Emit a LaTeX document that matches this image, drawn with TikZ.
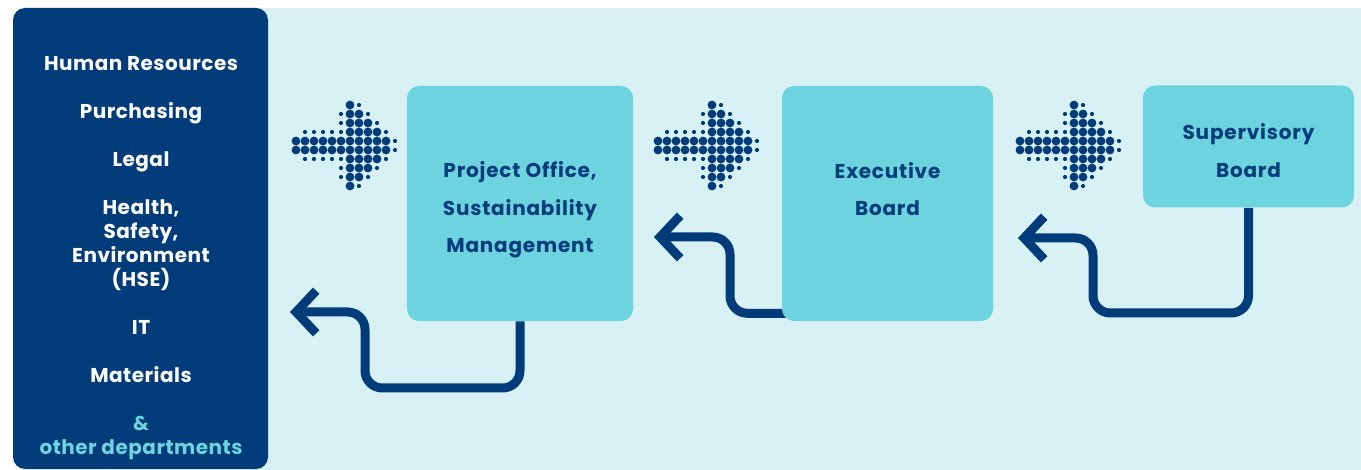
\documentclass[tikz,border=0pt]{standalone}
\usepackage{fontspec}
\setmainfont{Poppins}
\usepackage{tikz}
\tikzset{>=latex}
\usetikzlibrary{arrows.meta}
\definecolor{navy}{RGB}{0,59,122}
\definecolor{aqua}{RGB}{108,211,223}
\definecolor{pale}{RGB}{216,241,244}
\pgfdeclarelayer{bg}
\pgfdeclarelayer{lines}
\pgfsetlayers{bg,lines,main}
\tikzset{
    unitbox/.style={fill=aqua, rounded corners=9pt, inner sep=0pt},
    boxtext/.style={text=navy, font=\bfseries\fontsize{15}{28}\selectfont\addfontfeatures{LetterSpace=4}, align=center},
    deptext/.style={text=white, font=\bfseries\fontsize{15}{18}\selectfont\addfontfeatures{LetterSpace=2.5}, align=center},
    flow/.style={draw=navy, line width=6.75pt, rounded corners=13pt}
}

\begin{document}
\begin{tikzpicture}[x=0.75pt, y=-0.75pt, >={Straight Barb[length=15pt,width=32pt]}]
            \useasboundingbox (0,0) rectangle (1361,470);
            \begin{pgfonlayer}{bg}
                \fill[pale] (250,8) rectangle (1361,470);
            \end{pgfonlayer}
            % departments column
            \node[unitbox, fill=navy, minimum width=191.25pt, minimum height=345.75pt] (depts) at (140.5,238.5) {};
            \node[deptext] (deptlist) at (141,258.5) {Human Resources\\[18pt]Purchasing\\[18pt]Legal\\[18pt]Health,\\Safety,\\Environment\\(HSE)\\[18pt]IT\\[18pt]Materials\\[18pt]\textcolor{aqua}{\&}\\\textcolor{aqua}{other departments}};
            % boxes
            \node[unitbox, minimum width=169.5pt, minimum height=176.25pt] (office) at (520,203.5) {};
            \node[unitbox, minimum width=158.25pt, minimum height=176.25pt] (exec) at (887.5,203.5) {};
            \node[unitbox, minimum width=158.25pt, minimum height=91.5pt] (sup) at (1248.5,146.5) {};
            \node[boxtext] (officetxt) at (520,210) {Project Office,\\Sustainability\\Management};
            \node[boxtext] (exectxt) at (887.5,189) {Executive\\Board};
            \node[boxtext] (suptxt) at (1248.5,150.5) {Supervisory\\Board};
            % dotted arrows
            \foreach \ax in {296,658,1020} {
                \foreach \c/\r in {6/0,6/1,7/1,6/2,7/2,8/2,6/3,7/3,8/3,9/3,6/6,7/6,8/6,9/6,6/7,7/7,8/7,6/8,7/8,6/9} {
                    \fill[navy] (\ax+9*\c, 105+9*\r) circle [radius=4.4];
                }
                \foreach \c in {0,...,10} {
                    \fill[navy] (\ax+9*\c, 141) circle [radius=4.4];
                    \fill[navy] (\ax+9*\c, 150) circle [radius=4.4];
                }
                \foreach \c/\r in {7/0,5/1,8/1,5/2,9/2,1/3,2/3,3/3,4/3,5/3,10/3,11/4,11/5,1/6,2/6,3/6,4/6,5/6,10/6,5/7,9/7,5/8,8/8,7/9} {
                    \fill[navy] (\ax+9*\c, 105+9*\r) circle [radius=2.1];
                }
            }
            % return arrows
            \coordinate (in1) at (290,312);
            \coordinate (in2) at (654,237);
            \coordinate (in3) at (1018,238);
            \begin{pgfonlayer}{lines}
                \draw[flow, ->] (office.south) |- (365,388) |- (in1);
                \draw[flow, ->] ([shift={(20,-8)}]exec.south west) -| (730,237) -- (in2);
                \draw[flow, ->] (sup.south) |- (1093,313) |- (in3);
            \end{pgfonlayer}
        \end{tikzpicture}
\end{document}
